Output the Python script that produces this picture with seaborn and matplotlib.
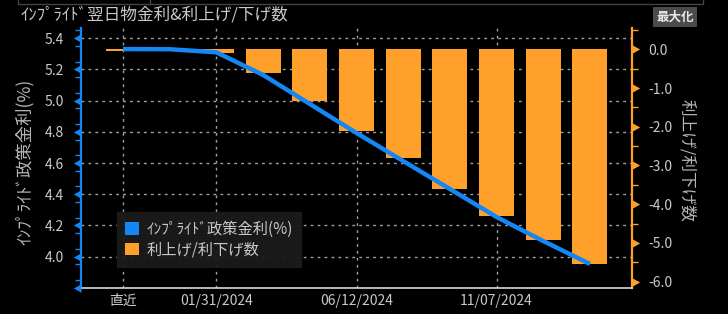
import numpy as np
import pandas as pd
import matplotlib
matplotlib.use("Agg")
import matplotlib.pyplot as plt
import seaborn as sns
from matplotlib.path import Path
from matplotlib.patches import Patch
from matplotlib.lines import Line2D
from matplotlib.transforms import blended_transform_factory

# ---------------- data ----------------
slots = ["直近", "12/13/2023", "01/31/2024", "03/20/2024", "05/01/2024",
         "06/12/2024", "07/31/2024", "09/18/2024", "11/07/2024",
         "12/18/2024", "01/29/2025"]
implied_rate = [5.331, 5.330, 5.310, 5.165, 4.979, 4.793, 4.613, 4.434,
                4.254, 4.100, 3.953]
hikes_cuts = [-0.05, -0.05, -0.10, -0.62, -1.33, -2.11, -2.81, -3.61,
              -4.30, -4.92, -5.54]
shown_ticks = ["直近", "01/31/2024", "06/12/2024", "11/07/2024"]
left_major = [3.8, 4.0, 4.2, 4.4, 4.6, 4.8, 5.0, 5.2, 5.4]
right_major = [-6.0, -5.0, -4.0, -3.0, -2.0, -1.0, 0.0]

title = "ｲﾝﾌﾟﾗｲﾄﾞ翌日物金利&利上げ/下げ数"
left_label = "ｲﾝﾌﾟﾗｲﾄﾞ政策金利(%)"
right_label = "利上げ/利下げ数"
legend_labels = ["ｲﾝﾌﾟﾗｲﾄﾞ政策金利(%)", "利上げ/利下げ数"]

BLUE = "#1487f5"
ORANGE = "#ffa02a"
TXT = "#c9c9c9"
GRID = "#a0a0a0"

sns.set_style("dark")
plt.rcParams["font.family"] = ["Noto Sans CJK JP", "DejaVu Sans"]

W, H = 728, 314
fig = plt.figure(figsize=(W / 100, H / 100), dpi=100, facecolor="black")
L, R, T, B = 81, 632, 28, 288
ax = fig.add_axes([L / W, (H - B) / H, (R - L) / W, (B - T) / H])
ax2 = ax.twinx()
ax.set_zorder(2)
ax2.set_zorder(1)
ax.patch.set_visible(False)
ax2.patch.set_visible(True)
ax2.patch.set_facecolor("black")

df = pd.DataFrame({"slot": slots, "count": hikes_cuts,
                   "pos": np.arange(len(slots)), "rate": implied_rate})

# bars (right scale)
sns.barplot(data=df, x="slot", y="count", order=slots, ax=ax2, color=ORANGE,
            saturation=1, width=0.75, errorbar=None, zorder=3,
            edgecolor="none", linewidth=0)
# line (left scale)
sns.lineplot(data=df, x="pos", y="rate", ax=ax, color=BLUE, lw=3.2,
             solid_capstyle="butt", zorder=5)

ax.set_xlim(-0.9, 10.9)
ax.set_ylim(3.799, 5.466)
ax2.set_ylim(-6.163, 0.55)

# grid (behind bars, on ax2)
hb = blended_transform_factory(ax2.transAxes, ax.transData)
for v in left_major[1:]:
    ax2.plot([0, 1], [v, v], transform=hb, color=GRID, lw=1.0,
             ls=(0, (2, 3)), zorder=1)
tick_pos = [slots.index(s) for s in shown_ticks]
for p in tick_pos:
    ax2.axvline(p, color=GRID, lw=1.0, ls=(0, (2, 3)), zorder=1)

# axes styling
for a in (ax, ax2):
    for s in a.spines.values():
        s.set_visible(False)
ax.spines["left"].set_visible(True)
ax.spines["left"].set_color(BLUE)
ax.spines["left"].set_linewidth(1.6)
ax.spines["bottom"].set_visible(True)
ax.spines["bottom"].set_color("#d8d8d8")
ax.spines["bottom"].set_linewidth(1.2)
ax2.spines["right"].set_visible(True)
ax2.spines["right"].set_color(ORANGE)
ax2.spines["right"].set_linewidth(1.6)

ax.set_xticks(tick_pos)
ax.set_xticklabels(shown_ticks)
ax.tick_params(axis="x", colors="#e0e0e0", labelcolor=TXT, labelsize=10,
               length=3, width=1.2, pad=1)
ax.set_xlabel("")
ax.set_ylabel("")
ax2.set_ylabel("")

ax.set_yticks(left_major)
ax.set_yticklabels([""] + [f"{v:.1f}" for v in left_major[1:]])
ax.set_yticks(np.arange(3.85, 5.46, 0.1), minor=True)
ax.tick_params(axis="y", which="major", length=0, pad=12, labelsize=10,
               labelcolor=TXT)
ax.tick_params(axis="y", which="minor", length=4, width=1, color=BLUE)

ax2.set_yticks(right_major)
ax2.set_yticklabels([f"{v:.1f}" for v in right_major])
ax2.set_yticks(np.arange(-5.5, 0.6, 1.0), minor=True)
ax2.tick_params(axis="y", which="major", length=0, pad=12, labelsize=10,
                labelcolor=TXT)
ax2.tick_params(axis="y", which="minor", length=4, width=1, color=ORANGE)
ax.grid(False)
ax2.grid(False)

# triangle tick markers
tri_left = Path([(0, -0.5), (0, 0.5), (-0.9, 0), (0, -0.5)],
                [Path.MOVETO, Path.LINETO, Path.LINETO, Path.CLOSEPOLY])
tri_right = Path([(0, -0.5), (0, 0.5), (0.9, 0), (0, -0.5)],
                 [Path.MOVETO, Path.LINETO, Path.LINETO, Path.CLOSEPOLY])
ax.plot(np.zeros(len(left_major)), left_major, ls="none", marker=tri_left,
        ms=11, color=BLUE, mec="none", clip_on=False,
        transform=blended_transform_factory(ax.transAxes, ax.transData),
        zorder=6)
ax2.plot(np.ones(len(right_major)), right_major, ls="none", marker=tri_right,
         ms=11, color=ORANGE, mec="none", clip_on=False,
         transform=blended_transform_factory(ax2.transAxes, ax2.transData),
         zorder=6)

# legend
handles = [Patch(facecolor=BLUE, edgecolor="none"),
           Patch(facecolor=ORANGE, edgecolor="none")]
leg = ax.legend(handles, legend_labels, loc="upper left",
                bbox_to_anchor=(0.065, 0.292), borderaxespad=0,
                frameon=True, facecolor="#1b1b1b", edgecolor="#1b1b1b",
                framealpha=0.95, fontsize=11, labelcolor=TXT,
                handlelength=0.9, handleheight=0.9, handletextpad=0.5,
                borderpad=0.55, labelspacing=0.25, fancybox=False)
leg.set_zorder(10)

# texts
fig.text(20 / W, 1 - 15 / H, title, fontsize=12, color=TXT,
         ha="left", va="center")
fig.text(25 / W, 1 - 162 / H, left_label, fontsize=12.5, color="#b5b5b5",
         rotation=90, ha="center", va="center")
fig.text(687 / W, 1 - 160 / H, right_label, fontsize=12, color="#b5b5b5",
         rotation=-90, ha="center", va="center")
fig.text(675 / W, 1 - 17 / H, "最大化", fontsize=9, color="#e8e8e8",
         ha="center", va="center", weight="bold",
         bbox=dict(boxstyle="square,pad=0.25", fc="#4b4b4b", ec="none"))

# panel frame at top
for xs, ys in [([18 / W, 703 / W], [1 - 4 / H, 1 - 4 / H]),
               ([18 / W, 18 / W], [1, 1 - 4 / H]),
               ([150 / W, 150 / W], [1, 1 - 4 / H]),
               ([703 / W, 703 / W], [1, 1 - 4 / H])]:
    fig.add_artist(Line2D(xs, ys, transform=fig.transFigure,
                          color="#444444", lw=1))

fig.savefig("out.png", dpi=100, facecolor="black")
